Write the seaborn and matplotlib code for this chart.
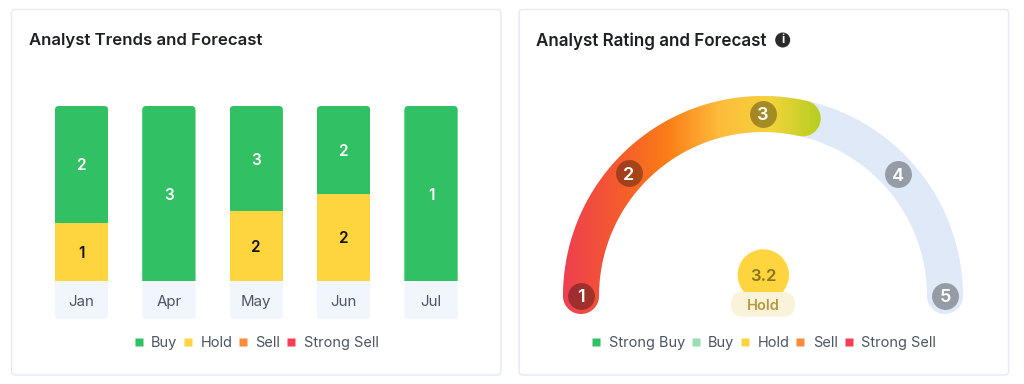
import numpy as np
import seaborn as sns
import matplotlib
matplotlib.use('Agg')
import matplotlib.pyplot as plt
from matplotlib.lines import Line2D
from matplotlib.patches import FancyBboxPatch, PathPatch, Circle
from matplotlib.path import Path

# ---------------------------------------------
# Data
# ---------------------------------------------
months = ['Jan', 'Apr', 'May', 'Jun', 'Jul']
strong_sell = [0, 0, 0, 0, 0]
sell = [0, 0, 0, 0, 0]
hold = [1, 0, 2, 2, 0]
buy = [2, 3, 3, 2, 1]

rating_ticks = [1, 2, 3, 4, 5]
rating_tick_angles = [180, 137.6, 90, 42, 0]
rating_value = 3.2
rating_label = 'Hold'
gauge_end_angle = 77.4

left_legend = ['Buy', 'Hold', 'Sell', 'Strong Sell']
left_legend_colors = ['#31c063', '#ffd53f', '#fb8c3e', '#f83e55']
right_legend = ['Strong Buy', 'Buy', 'Hold', 'Sell', 'Strong Sell']
right_legend_colors = ['#31c063', '#95dfb3', '#ffd53f', '#fb8c3e', '#f83e55']

# ---------------------------------------------
# Style
# ---------------------------------------------
sns.set_theme(style='white')
plt.rcParams['font.family'] = ['Inter', 'DejaVu Sans']

GREEN, YELLOW = '#31c063', '#ffd53f'
TEXT_DARK = '#1c2024'
TEXT_GREY = '#4b5563'
CARD_EDGE = '#e3e9f7'
CHIP = '#f1f6fd'
BAND = '#e0e9f8'

W, H = 1024, 384
fig = plt.figure(figsize=(W / 100, H / 100), dpi=100, facecolor='white')

# Background axes in pixel coordinates for cards, chips and the gauge
bg = fig.add_axes([0, 0, 1, 1], zorder=0)
bg.set_xlim(0, W)
bg.set_ylim(H, 0)
bg.axis('off')

for x0 in (11.5, 519):
    bg.add_patch(FancyBboxPatch((x0, 9.5), 489.5, 365.5,
                                boxstyle='round,pad=0,rounding_size=4',
                                fc='white', ec=CARD_EDGE, lw=1))

bg.text(29, 39.5, 'Analyst Trends and Forecast', fontsize=12.05, fontweight=600,
        color=TEXT_DARK, va='center_baseline')
bg.text(536.5, 39.5, 'Analyst Rating and Forecast', fontsize=12.25, fontweight=600,
        color=TEXT_DARK, va='center_baseline')
bg.add_patch(Circle((782.7, 40), 7.5, fc='#2b2b2b', ec='none'))
bg.text(782.7, 40.3, 'i', fontsize=8.5, fontweight='bold', color='white',
        ha='center', va='center')

# ---------------------------------------------
# Left card: 100% stacked bars
# ---------------------------------------------
ax = fig.add_axes([37.8 / W, 1 - 281 / H, (474.7 - 37.8) / W, 175 / H], zorder=1)
ax.patch.set_visible(False)

totals = np.array(buy) + np.array(hold) + np.array(sell) + np.array(strong_sell)
stack = [(buy, GREEN), (hold, YELLOW), (sell, '#fb8c3e'), (strong_sell, '#f83e55')]
tops = {}
level = np.ones(len(months))
for values, color in stack:
    sns.barplot(x=months, y=level, color=color, saturation=1, width=0.61, ax=ax, linewidth=0)
    tops[color] = level.copy()
    level = level - np.array(values) / totals

ax.set_ylim(0, 1)
ax.set_xlim(-0.5, 4.5)
ax.set_yticks([])
ax.set_ylabel('')
ax.tick_params(axis='x', length=0, pad=10, labelsize=10.8, labelcolor=TEXT_GREY)
sns.despine(ax=ax, left=True, bottom=True)

# value labels
for i in range(len(months)):
    if buy[i]:
        y = tops[GREEN][i] - buy[i] / totals[i] / 2
        ax.text(i, y, str(buy[i]), color='white', fontsize=11, fontweight=600,
                ha='center', va='center_baseline')
    if hold[i]:
        y = tops[YELLOW][i] - hold[i] / totals[i] / 2
        ax.text(i, y, str(hold[i]), color='#111111', fontsize=11, fontweight=600,
                ha='center', va='center_baseline')

# rounded bar tops and month chips, positioned from the bars themselves
to_px = ax.transData + bg.transData.inverted()
for bar in ax.patches[:len(months)]:
    (x0, y1), (x1, y0) = to_px.transform([(bar.get_x(), 0), (bar.get_x() + bar.get_width(), 1)])
    clip = FancyBboxPatch((x0, y0), x1 - x0, y1 - y0 + 20,
                          boxstyle='round,pad=0,rounding_size=4',
                          transform=bg.transData, fc='none', ec='none')
    bg.add_patch(clip)
    bg.add_patch(FancyBboxPatch((x0, y1 - 10), x1 - x0, 48,
                                boxstyle='round,pad=0,rounding_size=4',
                                fc=CHIP, ec='none'))
    for other in ax.patches:
        if abs(other.get_x() - bar.get_x()) < 1e-6:
            other.set_clip_path(clip)


def add_legend(labels, colors, center_x):
    handles = [Line2D([], [], ls='', marker='s', ms=5.2, mec='none', mfc=c) for c in colors]
    leg = bg.legend(handles, labels, ncol=len(labels), frameon=False, loc='center',
                    bbox_to_anchor=(center_x, 343), bbox_transform=bg.transData,
                    fontsize=10.45, labelcolor=TEXT_GREY, handlelength=0.7,
                    handletextpad=0.5, columnspacing=0.4, borderpad=0, borderaxespad=0)
    return leg


bg.add_artist(add_legend(left_legend, left_legend_colors, 256))
add_legend(right_legend, right_legend_colors, 763.5)

# ---------------------------------------------
# Right card: gauge
# ---------------------------------------------
CX, CY, R, BW = 763, 296, 182, 18


def polar(angle, radius):
    a = np.radians(angle)
    return CX + radius * np.cos(a), CY - radius * np.sin(a)


def band_path(a0, a1):
    # a0 > a1, runs clockwise on screen along the outer edge
    arc = np.linspace(a0, a1, 200)
    turn = np.linspace(0, 180, 30)
    xo, yo = polar(arc, R + BW)
    xi, yi = polar(arc[::-1], R - BW)
    cx1, cy1 = polar(a1, R)
    cx0, cy0 = polar(a0, R)
    xc1 = cx1 + BW * np.cos(np.radians(a1 - turn))
    yc1 = cy1 - BW * np.sin(np.radians(a1 - turn))
    xc0 = cx0 + BW * np.cos(np.radians(a0 + 180 - turn))
    yc0 = cy0 - BW * np.sin(np.radians(a0 + 180 - turn))
    xs = np.r_[xo, xc1, xi, xc0]
    ys = np.r_[yo, yc1, yi, yc0]
    return Path(np.column_stack([xs, ys]), closed=False)


bg.add_patch(PathPatch(band_path(180, 0), fc=BAND, ec='none', zorder=2))

gauge_cmap = sns.blend_palette(['#ee3f50', '#f4592f', '#fb7c17', '#fdbb3a', '#f5d33b', '#b3cf20'],
                               as_cmap=True)
fill = PathPatch(band_path(180, gauge_end_angle), fc='none', ec='none', zorder=2)
bg.add_patch(fill)
im = bg.imshow(np.linspace(0, 1, 256).reshape(1, -1), cmap=gauge_cmap, aspect='auto',
               extent=(563, 822, 320, 90), zorder=3)
im.set_clip_path(fill)
bg.set_xlim(0, W)
bg.set_ylim(H, 0)

tick_x, tick_y = polar(np.array(rating_tick_angles), R)
sns.scatterplot(x=tick_x, y=tick_y, s=375, color='black', alpha=0.33, linewidth=0,
                ax=bg, zorder=4, legend=False)
for t, x, y in zip(rating_ticks, tick_x, tick_y):
    bg.text(x, y, str(t), color='white', fontsize=13, fontweight=600, ha='center',
            va='center_baseline', zorder=5)

bg.add_patch(Circle((763.3, 275), 25.7, fc=YELLOW, ec='none', zorder=4))
bg.add_patch(FancyBboxPatch((731, 292), 64, 24.7, boxstyle='round,pad=0,rounding_size=12.3',
                            fc='#faf3d9', ec='none', zorder=5))
bg.text(763.3, 275, f'{rating_value}', color='#8a7320', fontsize=12, fontweight=600,
        ha='center', va='center_baseline', zorder=6)
bg.text(763.3, 304.5, rating_label, color='#b49a3c', fontsize=10.5, fontweight=600,
        ha='center', va='center_baseline', zorder=6)

fig.savefig('out.png', dpi=100)
